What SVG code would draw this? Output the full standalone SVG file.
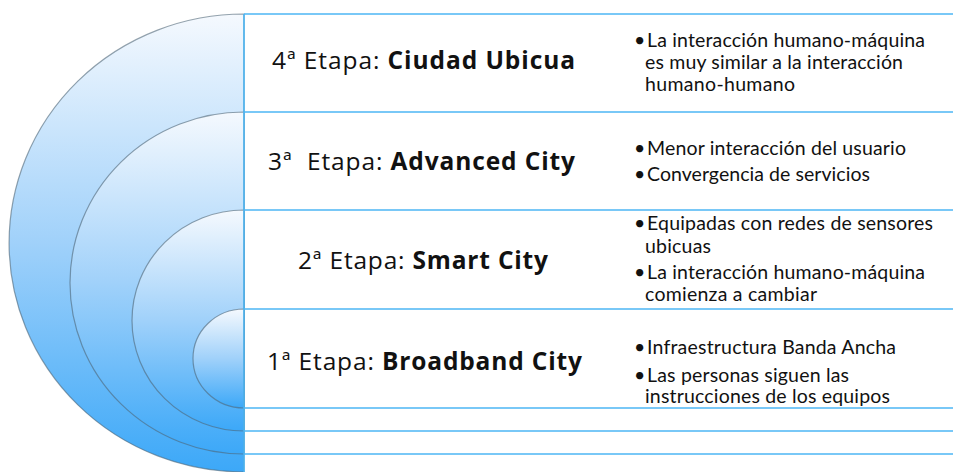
<svg xmlns="http://www.w3.org/2000/svg" width="953" height="472" viewBox="0 0 953 472">
<defs>
<linearGradient id="blue" x1="0" y1="0" x2="0" y2="1">
<stop offset="0" stop-color="#f5f9fe"/>
<stop offset="0.5" stop-color="#a0d1fa"/>
<stop offset="1" stop-color="#3ca8f8"/>
</linearGradient>
</defs>
<style>
.arc{fill:url(#blue);stroke:#4e6576;stroke-opacity:0.6;stroke-width:1.2}
.sep{stroke:#4cb6f4;stroke-width:1.6;fill:none}
.head{font-family:"Open Sans","Noto Sans",sans-serif;font-size:24.5px;fill:#111;text-anchor:middle}
.head .b{font-weight:bold}
.bul{font-family:Lato,"Liberation Sans",sans-serif;font-size:19.5px;fill:#111}
</style>
<rect width="953" height="472" fill="#fff"/>
<g id="circles">
<path id="ring4" class="arc" d="M244,14 A235,229 0 0 0 244,472 Z"/>
<path id="ring3" class="arc" d="M244,112 A174,171 0 0 0 244,454 Z"/>
<path id="ring2" class="arc" d="M244,210 A112,110.5 0 0 0 244,431 Z"/>
<path id="ring1" class="arc" d="M244,309 A51,49.5 0 0 0 244,408 Z"/>
</g>
<g id="connectors">
<line class="sep" x1="244" y1="14" x2="244" y2="472"/>
<line class="sep" x1="244" y1="14" x2="953" y2="14"/>
<line class="sep" x1="244" y1="112" x2="953" y2="112"/>
<line class="sep" x1="244" y1="210" x2="953" y2="210"/>
<line class="sep" x1="244" y1="309" x2="953" y2="309"/>
<line class="sep" x1="244" y1="408" x2="953" y2="408"/>
<line class="sep" x1="244" y1="431" x2="953" y2="431"/>
<line class="sep" x1="244" y1="454" x2="953" y2="454"/>
</g>
<g id="stage4">
<text class="head" x="423.5" y="69" textLength="303">4ª Etapa: <tspan class="b">Ciudad Ubicua</tspan></text>
<text class="bul" x="634" y="47">•</text>
<text class="bul" x="647" y="47" textLength="278">La interacción humano-máquina</text>
<text class="bul" x="645" y="69" textLength="258">es muy similar a la interacción</text>
<text class="bul" x="645" y="91" textLength="150">humano-humano</text>
</g>
<g id="stage3">
<text class="head" x="421.5" y="170" textLength="307" xml:space="preserve">3ª  Etapa: <tspan class="b">Advanced City</tspan></text>
<text class="bul" x="634" y="155">•</text>
<text class="bul" x="647" y="155" textLength="259">Menor interacción del usuario</text>
<text class="bul" x="634" y="181">•</text>
<text class="bul" x="647" y="181" textLength="223">Convergencia de servicios</text>
</g>
<g id="stage2">
<text class="head" x="423" y="269" textLength="250">2ª Etapa: <tspan class="b">Smart City</tspan></text>
<text class="bul" x="634" y="230">•</text>
<text class="bul" x="647" y="230" textLength="286">Equipadas con redes de sensores</text>
<text class="bul" x="645" y="253" textLength="66">ubicuas</text>
<text class="bul" x="634" y="279">•</text>
<text class="bul" x="647" y="279" textLength="278">La interacción humano-máquina</text>
<text class="bul" x="645" y="301" textLength="172">comienza a cambiar</text>
</g>
<g id="stage1">
<text class="head" x="424.5" y="370" textLength="315">1ª Etapa: <tspan class="b">Broadband City</tspan></text>
<text class="bul" x="634" y="354">•</text>
<text class="bul" x="647" y="354" textLength="249">Infraestructura Banda Ancha</text>
<text class="bul" x="634" y="382">•</text>
<text class="bul" x="647" y="382" textLength="202">Las personas siguen las</text>
<text class="bul" x="645" y="403" textLength="245">instrucciones de los equipos</text>
</g>
</svg>
